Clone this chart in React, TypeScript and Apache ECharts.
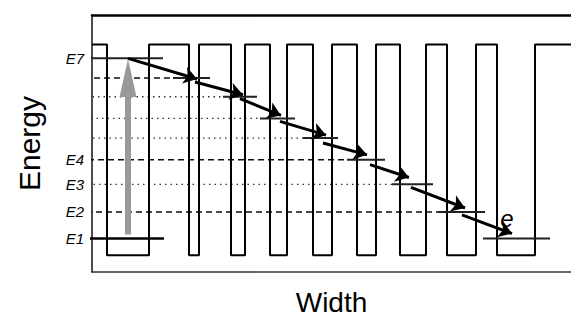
import React, { useEffect, useRef } from "react";
import * as echarts from "echarts";

// Axis extents (arbitrary units: width, energy)
const X_MAX = 479;
const Y_MAX = 261;

// Conduction-band profile (square wave)
const BARRIER_TOP = 231;
const WELL_BOTTOM = 17;
const WAVE_START = 0;
const WAVE_END = 479;
const waveEdges = [15, 57, 97, 107, 139, 153, 178, 195, 221, 240, 265, 284, 308, 334, 355, 384, 405, 443];

// Energy levels (top to bottom)
const levelNames = ["E7", "", "", "", "", "E4", "E3", "E2", "E1"];
const levelEnergy = [217, 197, 178, 156, 136, 114, 89, 61, 34];
const segStart = [-6, 81, 131, 168, 211, 255, 300, 346, 391];
const segEnd = [71, 118, 165, 203, 246, 293, 341, 393, 458];
const guideStart = [null, -8, -5, -12, -10, -4, -4, -6, null];
const guideKind = ["", "dashed", "dotted", "dotted", "dotted", "dashed", "dotted", "dashed", ""];
const groundStart = -5;
const groundEnd = 72;
const labelX = -7;

// Cascade arrows
const arrowFromX = [36, 103, 148, 188, 231, 278, 319, 370];
const arrowFromY = [217, 193, 176, 153, 131, 109, 86, 58];
const arrowToX = [105, 151, 189, 234, 275, 317, 373, 420];
const arrowToY = [196, 180, 159, 139, 119, 96, 65, 39];

// Pump arrow (E1 -> E7)
const pumpX = 36;
const pumpFrom = 38;
const pumpShaftTo = 180;
const pumpHeadBase = 178;
const pumpTip = 216;

// Electron label
const electronName = "e";
const electronX = 415;
const electronY = 54;

const FONT = "Liberation Sans, Arial, Helvetica, sans-serif";

function buildWave(): number[][] {
  const pts: number[][] = [[WAVE_START, BARRIER_TOP]];
  let cur = BARRIER_TOP;
  for (const e of waveEdges) {
    const next = cur === BARRIER_TOP ? WELL_BOTTOM : BARRIER_TOP;
    pts.push([e, cur]);
    pts.push([e, next]);
    cur = next;
  }
  pts.push([WAVE_END, cur]);
  return pts;
}

function dashFor(kind: string): number[] {
  if (kind === "dotted") return [1.5, 4];
  return [6, 4];
}

export default function App() {
  const ref = useRef<HTMLDivElement>(null);
  useEffect(() => {
    if (!ref.current) return;
    const chart = echarts.init(ref.current, undefined, { renderer: "svg" });
    const series: any[] = [];

    series.push({
      type: "line",
      data: buildWave(),
      symbol: "none",
      lineStyle: { color: "#000", width: 2 },
      clip: false,
      silent: true,
      z: 3,
    });

    levelEnergy.forEach((y, i) => {
      const gs = guideStart[i];
      if (gs !== null) {
        series.push({
          type: "line",
          data: [
            [gs, y],
            [segStart[i], y],
          ],
          symbol: "none",
          lineStyle: {
            color: guideKind[i] === "dotted" ? "#333" : "#111",
            width: guideKind[i] === "dotted" ? 1.3 : 1.6,
            type: dashFor(guideKind[i]),
          },
          clip: false,
          silent: true,
          z: 2,
        });
      }
      series.push({
        type: "line",
        data: [
          [segStart[i], y],
          [segEnd[i], y],
        ],
        symbol: "none",
        lineStyle: { color: "#222", width: 2 },
        clip: false,
        silent: true,
        z: 4,
      });
    });

    // Ground level in the first well
    series.push({
      type: "line",
      data: [
        [groundStart, levelEnergy[levelEnergy.length - 1]],
        [groundEnd, levelEnergy[levelEnergy.length - 1]],
      ],
      symbol: "none",
      lineStyle: { color: "#000", width: 2.5 },
      clip: false,
      silent: true,
      z: 4,
    });

    // Pump arrow
    series.push({
      type: "line",
      data: [
        [pumpX, pumpFrom],
        [pumpX, pumpShaftTo],
      ],
      symbol: "none",
      lineStyle: { color: "#999", width: 6 },
      silent: true,
      z: 5,
    });
    series.push({
      type: "scatter",
      data: [[pumpX, (pumpTip + pumpHeadBase) / 2]],
      symbol: "triangle",
      symbolSize: [17, pumpTip - pumpHeadBase],
      itemStyle: { color: "#999", opacity: 1 },
      silent: true,
      z: 5,
    });

    // Cascade arrows
    series.push({
      type: "lines",
      coordinateSystem: "cartesian2d",
      data: arrowFromX.map((x, i) => ({
        coords: [
          [x, arrowFromY[i]],
          [arrowToX[i], arrowToY[i]],
        ],
      })),
      symbol: ["none", "arrow"],
      symbolSize: 13,
      lineStyle: { color: "#000", width: 3, opacity: 1, curveness: 0 },
      silent: true,
      z: 6,
    });

    // Level labels
    series.push({
      type: "scatter",
      data: levelNames
        .map((n, i) => ({ name: n, value: [labelX, levelEnergy[i]] }))
        .filter((d) => d.name !== ""),
      symbolSize: 0,
      itemStyle: { opacity: 1 },
      clip: false,
      silent: true,
      label: {
        show: true,
        position: "left",
        distance: 1,
        formatter: "{b}",
        fontFamily: FONT,
        fontStyle: "italic",
        fontSize: 15,
        color: "#000",
        opacity: 1,
      },
      z: 7,
    });

    // Electron label
    series.push({
      type: "scatter",
      data: [{ name: electronName, value: [electronX, electronY] }],
      symbolSize: 0,
      itemStyle: { opacity: 1 },
      silent: true,
      label: {
        show: true,
        position: "inside",
        formatter: "{b}",
        fontFamily: FONT,
        fontStyle: "italic",
        fontSize: 24,
        color: "#000",
        opacity: 1,
      },
      z: 7,
    });

    const hiddenBits = {
      axisTick: { show: false },
      axisLabel: { show: false },
      splitLine: { show: false },
    };

    chart.setOption({
      animation: false,
      backgroundColor: "#fff",
      grid: { left: 92, top: 15, right: 0, bottom: 45 },
      xAxis: [
        {
          type: "value",
          min: 0,
          max: X_MAX,
          position: "bottom",
          name: "Width",
          nameLocation: "middle",
          nameGap: 16,
          nameTextStyle: { fontFamily: FONT, fontSize: 28, color: "#000" },
          axisLine: { show: true, onZero: false, lineStyle: { color: "#333", width: 1.5 } },
          ...hiddenBits,
        },
        {
          type: "value",
          min: 0,
          max: X_MAX,
          position: "top",
          axisLine: { show: true, onZero: false, lineStyle: { color: "#000", width: 2.5 } },
          ...hiddenBits,
        },
      ],
      yAxis: {
        type: "value",
        min: 0,
        max: Y_MAX,
        name: "Energy",
        nameLocation: "middle",
        nameRotate: 90,
        nameGap: 48,
        nameTextStyle: { fontFamily: FONT, fontSize: 30, color: "#000" },
        axisLine: { show: true, onZero: false, lineStyle: { color: "#111", width: 1.5 } },
        ...hiddenBits,
      },
      series,
    });
    return () => chart.dispose();
  }, []);
  return (
    <div
      ref={ref}
      style={{ position: "fixed", left: 0, top: 0, width: 571, height: 321, background: "#fff" }}
    />
  );
}
